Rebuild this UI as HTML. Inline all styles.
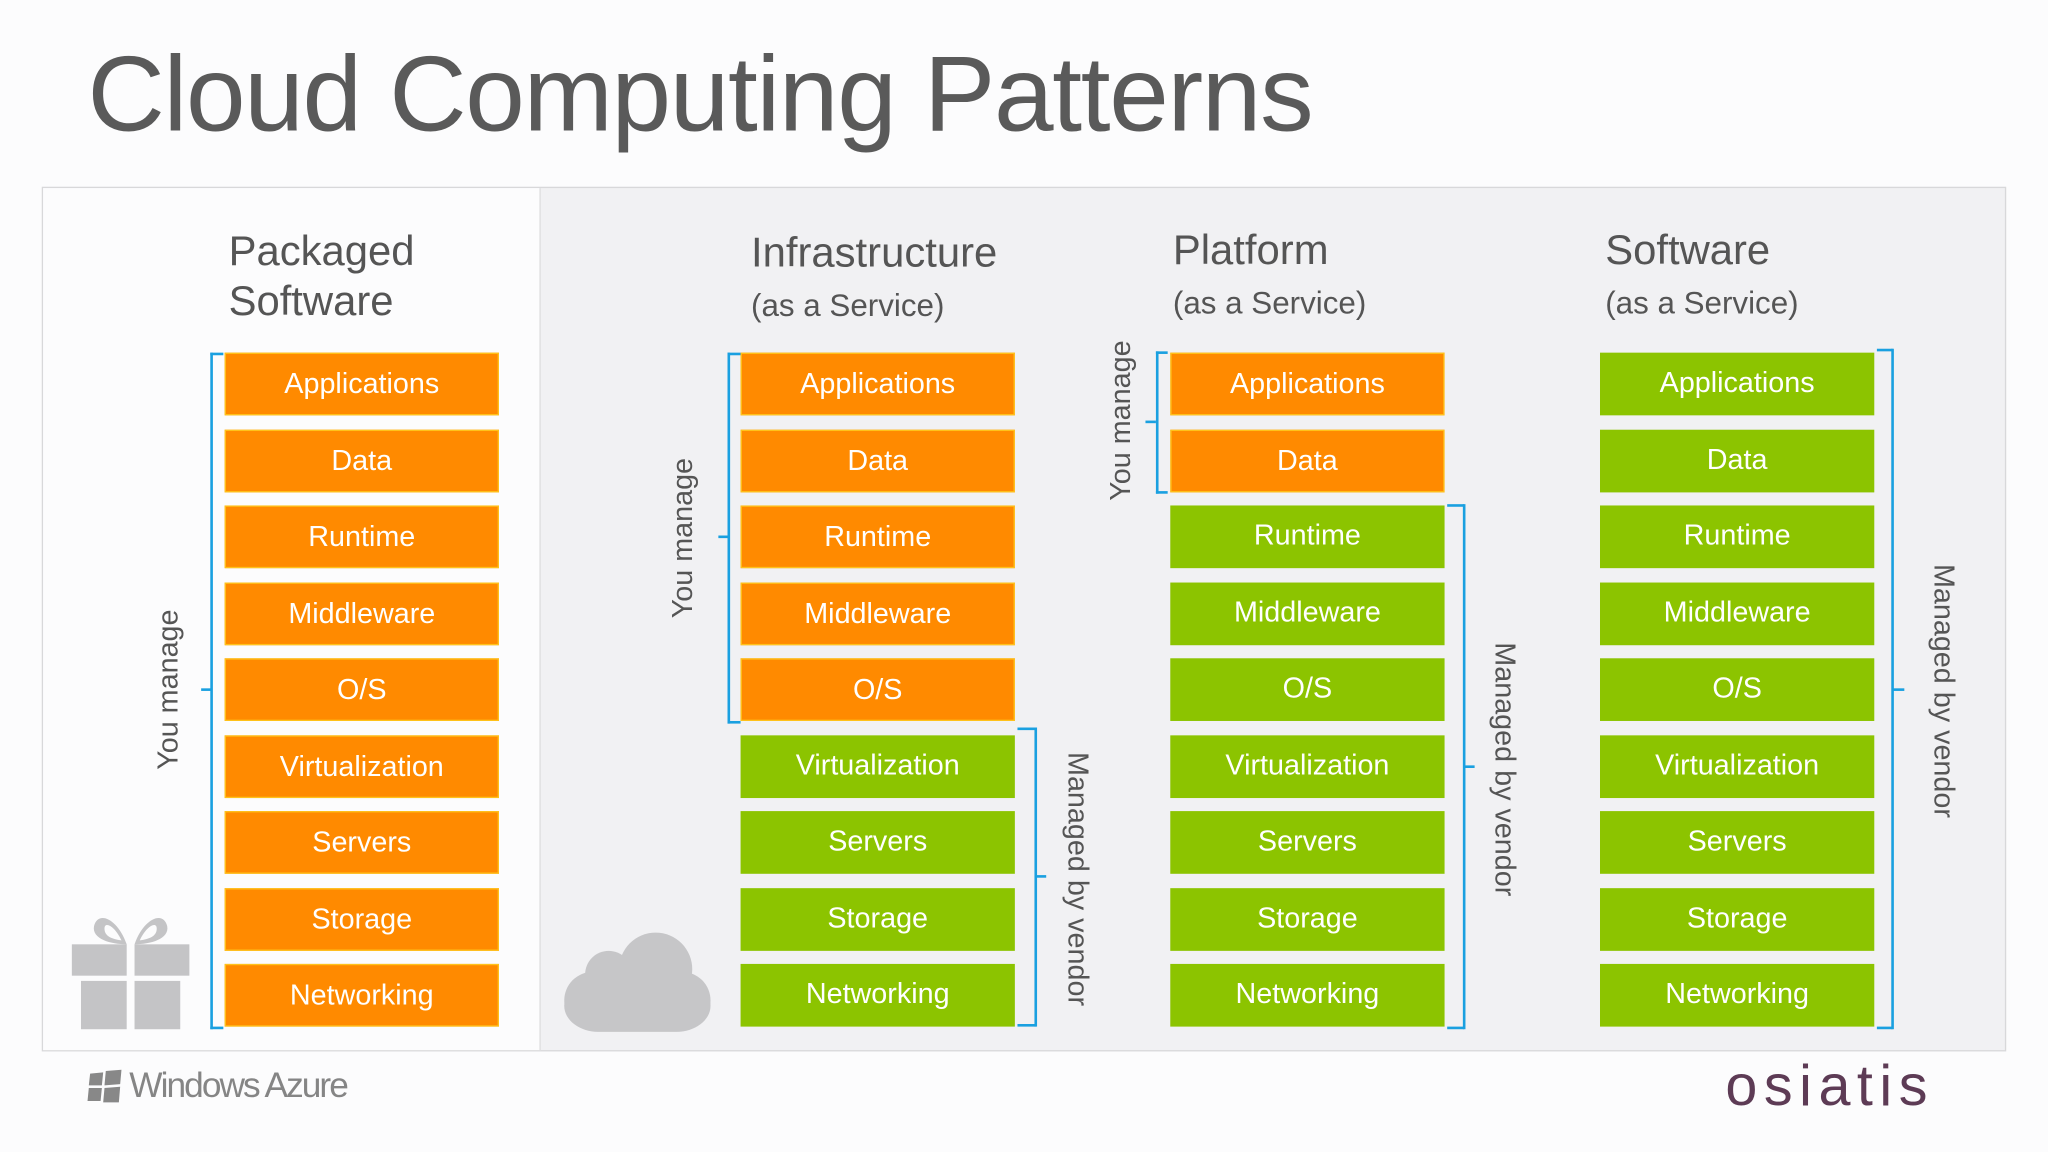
<!DOCTYPE html>
<html><head><meta charset="utf-8"><style>
html,body{margin:0;padding:0;width:2048px;height:1152px;overflow:hidden;background:#fcfcfd;}
#w{position:absolute;left:0;top:0;width:1568px;height:882px;transform:scale(1.306122);transform-origin:0 0;font-family:"Liberation Sans","DejaVu Sans",sans-serif;}
.a{position:absolute;}
.b{position:absolute;width:210px;height:48px;line-height:45px;text-align:center;color:#fff;font-size:22px;box-sizing:border-box;}
.o{background:#ff8a00;border:1.5px solid #ffc21a;}
.g{background:#8cc400;}
.h{position:absolute;color:#555;font-size:32px;line-height:38px;}
.s{font-size:24px;}
.bl{position:absolute;background:#1aa0e0;}
.r{position:absolute;color:#555;font-size:22px;white-space:nowrap;transform:translate(-50%,-50%) rotate(-90deg);}
.rv{position:absolute;color:#555;font-size:22px;white-space:nowrap;transform:translate(-50%,-50%) rotate(90deg);}
</style></head><body><div id="w">
<div class="a" style="left:67px;top:26px;font-size:82px;color:#5a5a5a;letter-spacing:-1px;">Cloud Computing Patterns</div>
<div class="a" style="left:32px;top:143px;width:1502px;height:660px;border:1.5px solid #d8d8da;background:#f1f1f3;"></div>
<div class="a" style="left:33px;top:144px;width:380px;height:660px;background:#fcfcfd;border-right:1.5px solid #dcdcde;"></div>

<div class="h" style="left:175px;top:173px;">Packaged<br>Software</div>
<div class="h" style="left:575px;top:174px;">Infrastructure<br><span class="s">(as a Service)</span></div>
<div class="h" style="left:898px;top:172px;">Platform<br><span class="s">(as a Service)</span></div>
<div class="h" style="left:1229px;top:172px;">Software<br><span class="s">(as a Service)</span></div>

<div class="b o" style="left:172px;top:270px">Applications</div>
<div class="b o" style="left:172px;top:329px">Data</div>
<div class="b o" style="left:172px;top:387px">Runtime</div>
<div class="b o" style="left:172px;top:446px">Middleware</div>
<div class="b o" style="left:172px;top:504px">O/S</div>
<div class="b o" style="left:172px;top:563px">Virtualization</div>
<div class="b o" style="left:172px;top:621px">Servers</div>
<div class="b o" style="left:172px;top:680px">Storage</div>
<div class="b o" style="left:172px;top:738px">Networking</div>

<div class="b o" style="left:567px;top:270px">Applications</div>
<div class="b o" style="left:567px;top:329px">Data</div>
<div class="b o" style="left:567px;top:387px">Runtime</div>
<div class="b o" style="left:567px;top:446px">Middleware</div>
<div class="b o" style="left:567px;top:504px">O/S</div>
<div class="b g" style="left:567px;top:563px">Virtualization</div>
<div class="b g" style="left:567px;top:621px">Servers</div>
<div class="b g" style="left:567px;top:680px">Storage</div>
<div class="b g" style="left:567px;top:738px">Networking</div>

<div class="b o" style="left:896px;top:270px">Applications</div>
<div class="b o" style="left:896px;top:329px">Data</div>
<div class="b g" style="left:896px;top:387px">Runtime</div>
<div class="b g" style="left:896px;top:446px">Middleware</div>
<div class="b g" style="left:896px;top:504px">O/S</div>
<div class="b g" style="left:896px;top:563px">Virtualization</div>
<div class="b g" style="left:896px;top:621px">Servers</div>
<div class="b g" style="left:896px;top:680px">Storage</div>
<div class="b g" style="left:896px;top:738px">Networking</div>

<div class="b g" style="left:1225px;top:270px">Applications</div>
<div class="b g" style="left:1225px;top:329px">Data</div>
<div class="b g" style="left:1225px;top:387px">Runtime</div>
<div class="b g" style="left:1225px;top:446px">Middleware</div>
<div class="b g" style="left:1225px;top:504px">O/S</div>
<div class="b g" style="left:1225px;top:563px">Virtualization</div>
<div class="b g" style="left:1225px;top:621px">Servers</div>
<div class="b g" style="left:1225px;top:680px">Storage</div>
<div class="b g" style="left:1225px;top:738px">Networking</div>

<div class="bl" style="left:161px;top:270px;width:2px;height:518px"></div>
<div class="bl" style="left:161px;top:270px;width:10px;height:2px"></div>
<div class="bl" style="left:161px;top:786px;width:10px;height:2px"></div>
<div class="bl" style="left:154px;top:527px;width:8px;height:2px"></div>
<div class="r" style="left:129px;top:528px">You manage</div>

<div class="bl" style="left:557px;top:270px;width:2px;height:284px"></div>
<div class="bl" style="left:557px;top:270px;width:10px;height:2px"></div>
<div class="bl" style="left:557px;top:552px;width:10px;height:2px"></div>
<div class="bl" style="left:550px;top:410px;width:8px;height:2px"></div>
<div class="r" style="left:523px;top:412px">You manage</div>
<div class="bl" style="left:792px;top:557px;width:2px;height:229px"></div>
<div class="bl" style="left:779px;top:557px;width:14px;height:2px"></div>
<div class="bl" style="left:779px;top:784px;width:14px;height:2px"></div>
<div class="bl" style="left:793px;top:670px;width:8px;height:2px"></div>
<div class="rv" style="left:825px;top:673px">Managed by vendor</div>

<div class="bl" style="left:885px;top:269px;width:2px;height:109px"></div>
<div class="bl" style="left:885px;top:269px;width:9px;height:2px"></div>
<div class="bl" style="left:885px;top:376px;width:9px;height:2px"></div>
<div class="bl" style="left:877px;top:322px;width:8px;height:2px"></div>
<div class="r" style="left:858px;top:322px">You manage</div>
<div class="bl" style="left:1120px;top:386px;width:2px;height:402px"></div>
<div class="bl" style="left:1108px;top:386px;width:13px;height:2px"></div>
<div class="bl" style="left:1108px;top:786px;width:13px;height:2px"></div>
<div class="bl" style="left:1121px;top:586px;width:8px;height:2px"></div>
<div class="rv" style="left:1152px;top:589px">Managed by vendor</div>

<div class="bl" style="left:1448px;top:267px;width:2px;height:521px"></div>
<div class="bl" style="left:1437px;top:267px;width:12px;height:2px"></div>
<div class="bl" style="left:1437px;top:786px;width:12px;height:2px"></div>
<div class="bl" style="left:1449px;top:527px;width:9px;height:2px"></div>
<div class="rv" style="left:1488px;top:529px">Managed by vendor</div>

<svg class="a" style="left:50px;top:695px" width="100" height="95" viewBox="0 0 100 95">
<g fill="#c4c4c6">
<path d="M47 28 C40 8 25 2 22 14 C20 24 35 28 47 28 Z M30 16 C30 10 38 14 43 25 C36 24 30 22 30 16Z" fill-rule="evenodd"/>
<path d="M53 28 C60 8 75 2 78 14 C80 24 65 28 53 28 Z M70 16 C70 10 62 14 57 25 C64 24 70 22 70 16Z" fill-rule="evenodd"/>
<rect x="5" y="28" width="42" height="24"/><rect x="53" y="28" width="42" height="24"/>
<rect x="12" y="56" width="35" height="37"/><rect x="53" y="56" width="35" height="37"/>
</g></svg>
<svg class="a" style="left:430px;top:710px" width="118" height="82" viewBox="0 0 118 82">
<g fill="#c6c6c8">
<circle cx="72" cy="32" r="28"/><circle cx="36" cy="36" r="18"/>
<rect x="2" y="40" width="112" height="40" rx="26"/>
<circle cx="24" cy="56" r="22"/><circle cx="92" cy="56" r="22"/>
</g></svg>

<svg class="a" style="left:66px;top:818px" width="30" height="28" viewBox="0 0 30 28"><g fill="#888"><path d="M3 4 L13 3 L12 13 L2 13Z"/><path d="M15 2 L27 1 L26 12 L14 13Z"/><path d="M2 15 L12 15 L11 25 L1 25Z"/><path d="M14 15 L26 14 L25 26 L13 26Z"/></g></svg>
<div class="a" style="left:99px;top:816px;font-size:27px;color:#858585;letter-spacing:-1.5px;">Windows Azure</div>
<div class="a" style="left:1321px;top:807px;font-size:44px;color:#5d3b55;letter-spacing:5px;">osiatis</div>
</div></body></html>
